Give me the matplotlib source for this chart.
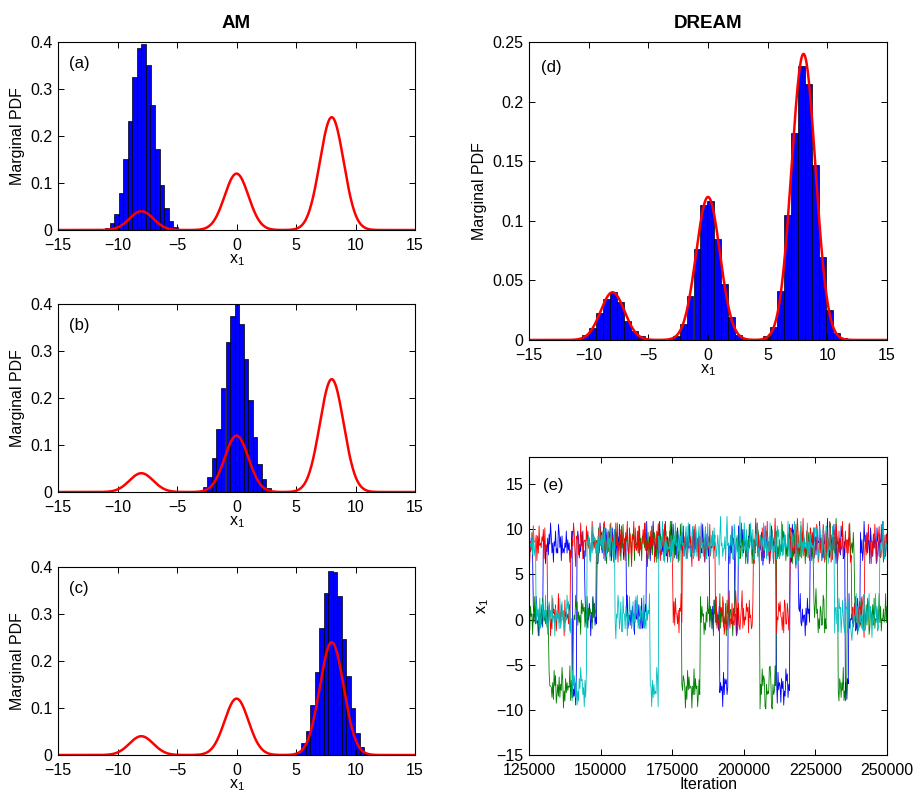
import numpy as np
import matplotlib.pyplot as plt
from matplotlib.ticker import FuncFormatter

plt.rcParams['font.family'] = ['Liberation Sans', 'DejaVu Sans']

# ---- histogram data ----
a_centers = [-10.85, -10.47, -10.09, -9.71, -9.33, -8.95, -8.56, -8.18,
             -7.80, -7.42, -7.04, -6.66, -6.28, -5.90, -5.52, -5.14]
a_heights = [0.0035, 0.0156, 0.035, 0.079, 0.151, 0.232, 0.325, 0.387,
             0.395, 0.352, 0.266, 0.173, 0.096, 0.046, 0.019, 0.007]

b_centers = [-3.02, -2.64, -2.26, -1.88, -1.50, -1.12, -0.73, -0.35, 0.03,
             0.41, 0.79, 1.17, 1.55, 1.93, 2.31, 2.70, 3.08]
b_heights = [0.003, 0.011, 0.031, 0.072, 0.134, 0.222, 0.320, 0.375, 0.399,
             0.357, 0.284, 0.196, 0.118, 0.059, 0.028, 0.009, 0.002]

c_centers = [4.85, 5.23, 5.61, 5.99, 6.37, 6.75, 7.14, 7.52, 7.90, 8.28,
             8.66, 9.04, 9.42, 9.80, 10.18, 10.56, 10.94]
c_heights = [0.002, 0.005, 0.025, 0.052, 0.106, 0.177, 0.271, 0.344, 0.392,
             0.390, 0.339, 0.247, 0.168, 0.099, 0.046, 0.016, 0.004]

d_centers = [-11.42, -10.84, -10.25, -9.67, -9.09, -8.50, -7.92, -7.34,
             -6.75, -6.17, -5.59, -5.01, -4.42, -3.84, -3.26, -2.67, -2.09,
             -1.51, -0.92, -0.34, 0.24, 0.82, 1.41, 1.99, 2.57, 3.16, 3.74,
             4.32, 4.91, 5.49, 6.07, 6.65, 7.24, 7.82, 8.40, 8.99, 9.57,
             10.15, 10.74, 11.32]
d_heights = [0.0005, 0.001, 0.004, 0.010, 0.023, 0.034, 0.040, 0.032,
             0.016, 0.0075, 0.0034, 0.001, 0.0002, 0.0, 0.001, 0.0036, 0.0137,
             0.0366, 0.076, 0.113, 0.117, 0.085, 0.047, 0.019, 0.0045, 0.001,
             0.0002, 0.001, 0.003, 0.011, 0.041, 0.105, 0.174, 0.230, 0.215,
             0.147, 0.070, 0.025, 0.006, 0.002]

# target mixture (peak positions / heights)
peak_means = [-8, 0, 8]
peak_heights = [0.04, 0.12, 0.24]
peak_sd = 1.0

# ---- DREAM chains: mode switches (iteration, level) + wiggle digits ----
# each wiggle digit is an offset from the current mode level
wiggle_offsets = [-3.0, -2.1, -1.4, -0.8, -0.3, 0.3, 0.8, 1.4, 2.1, 3.1]

blue_switch = [125000, 126500, 130000, 140200, 141700, 144500, 148600, 159000,
               166000, 188000, 191500, 194500, 196800, 198000, 211400, 216000,
               219000, 223000, 235300, 236500, 240500]
blue_level = [8, 0, 8, -8, 8, 0, 8, 0, 8, 0, -8, 8, 0, 8, -8, 8, 0, 8, -8, 0, 8]
blue_wiggle = ("46375284639251746372845163728495361748253964718253"
               "64827361548263719485263748159372648517394826351749"
               "38264719538462719358426473918564273849165372846193"
               "57384629147385926471835946273815947263859147362859"
               "46372819564738291564728391647582936471825394617283"
               "35476281947365283746192857364518293746518293647582"
               "74625183947261538495627384152937465182937465281937"
               "52847163958274613958247361859247365182947356281947"
               "28465937152846379152864739251846372958146372859164"
               "63748152946382715946382751946283751946283759146285")

green_switch = [125000, 132000, 140500, 148500, 178300, 184700, 197000, 205600,
                211400, 224200, 228800, 232900, 236000, 238500]
green_level = [0, -8, 0, 8, -8, 0, 8, -8, 8, 0, 8, -8, 8, 0]
green_wiggle = ("52846173928465173829546372819465372948156382749516"
                "28374659182736495827361948572639184756293847561928"
                "73649285176384925617384926571839462758319462857193"
                "64829371856492738165472938561749283657194826375918"
                "39527486153927486517293846517392846157392846152739"
                "47283651948273659184726351948276351849276358149275"
                "85162739485162739458612739486127354986127359481627"
                "26394857162839475162839457162938475162938457162938"
                "94716285349716285374916285379416285374916258374916"
                "53829164735829164753829614753829164735928164735928")

red_switch = [125000, 131500, 139500, 175300, 178500, 190000, 203300, 211400,
              216000, 237600, 242200]
red_level = [8, 0, 8, 0, 8, 0, 8, 0, 8, 0, 8]
red_wiggle = ("61738294657182936475819264738516294738165927384651"
              "92746381527496318572649381756294837165928374615829"
              "37485916274839165728493617582946371859246731859264"
              "48291736584927316548293761548392716458392761548273"
              "15829463718592647381529647318295463718529463718254"
              "73916482573916428573961482357916482537961482357918"
              "26485719362485179362845719326485917326485179326485"
              "84527196348527196384521796348527916348527196384527"
              "39614827539614827359614287539614827359164827539614"
              "57283946157283964157283946517283946157823946157283")

cyan_switch = [125000, 127500, 140000, 145100, 155000, 167200, 170100, 231700,
               247400]
cyan_level = [8, 0, -8, 8, 0, -8, 8, 0, 8]
cyan_wiggle = ("83647291563847291658374926158374926518374629158374"
               "26495837162948537162849573618294573618294753618294"
               "57381946258371946258317496258139462851739462581739"
               "49162837549162837594618273549618273594618273546182"
               "71849362571849362578149362578143962578149362578149"
               "36257481936257418936254718936257481396257418936254"
               "92581637492581367492518637492581763492581637429581"
               "45917283645917238645971283645917283654917283645197"
               "68342957168342975168342957186342957168432957168342"
               "14736592814736529814736592841736592814736259814736")

chains = [
    (blue_switch, blue_level, blue_wiggle, (0, 0, 1)),
    (green_switch, green_level, green_wiggle, (0, 0.5, 0)),
    (red_switch, red_level, red_wiggle, (1, 0, 0)),
    (cyan_switch, cyan_level, cyan_wiggle, (0, 0.75, 0.75)),
]


def style_axes(ax):
    ax.tick_params(direction='in', top=True, right=True, length=4,
                   width=0.7, labelsize=11.5)
    ax.tick_params(axis='x', pad=6)
    ax.tick_params(axis='y', pad=4)
    for s in ax.spines.values():
        s.set_linewidth(0.8)


def target_pdf(x):
    y = np.zeros_like(x)
    for m, h in zip(peak_means, peak_heights):
        y += h * np.exp(-0.5 * ((x - m) / peak_sd) ** 2)
    return y


xlab = r'$\mathregular{x_1}$'
xg = np.linspace(-15, 15, 601)

fig = plt.figure(figsize=(9.14, 7.91), dpi=100)

left_pos = [[0.0635, 0.7092, 0.3906, 0.2377],
            [0.0635, 0.3780, 0.3906, 0.2377],
            [0.0635, 0.0455, 0.3906, 0.2377]]
hist_sets = [(a_centers, a_heights, '(a)'),
             (b_centers, b_heights, '(b)'),
             (c_centers, c_heights, '(c)')]

for pos, (cen, hts, tag) in zip(left_pos, hist_sets):
    ax = fig.add_axes(pos)
    ax.bar(cen, hts, width=0.381, color='b', edgecolor='k', linewidth=0.5)
    ax.plot(xg, target_pdf(xg), color='r', lw=1.8)
    ax.set_xlim(-15, 15)
    ax.set_ylim(0, 0.4)
    ax.set_xticks(range(-15, 16, 5))
    ax.set_yticks([0, 0.1, 0.2, 0.3, 0.4])
    ax.yaxis.set_major_formatter(FuncFormatter(lambda v, p: '%g' % v))
    ax.set_xlabel(xlab, fontsize=11.5, labelpad=-1)
    ax.set_ylabel('Marginal PDF', fontsize=11.5)
    ax.text(0.031, 0.885, tag, transform=ax.transAxes, fontsize=12, va='center')
    style_axes(ax)
    if tag == '(a)':
        ax.set_title('AM', fontsize=13.5, fontweight='bold', pad=10)

# (d) DREAM histogram
ax = fig.add_axes([0.5788, 0.5702, 0.3917, 0.3767])
ax.bar(d_centers, d_heights, width=0.583, color='b', edgecolor='k', linewidth=0.5)
ax.plot(xg, target_pdf(xg), color='r', lw=1.8)
ax.set_xlim(-15, 15)
ax.set_ylim(0, 0.25)
ax.set_xticks(range(-15, 16, 5))
ax.set_yticks([0, 0.05, 0.1, 0.15, 0.2, 0.25])
ax.yaxis.set_major_formatter(FuncFormatter(lambda v, p: '%g' % v))
ax.set_xlabel(xlab, fontsize=11.5, labelpad=-1)
ax.set_ylabel('Marginal PDF', fontsize=11.5)
ax.text(0.034, 0.914, '(d)', transform=ax.transAxes, fontsize=12, va='center')
ax.set_title('DREAM', fontsize=13.5, fontweight='bold', pad=10)
style_axes(ax)

# (e) trace plot
ax = fig.add_axes([0.5788, 0.0455, 0.3917, 0.3767])
for sw, lv, wig, col in chains:
    it = np.linspace(125000, 250000, len(wig))
    idx = np.searchsorted(sw, it, side='right') - 1
    offs = np.array([wiggle_offsets[int(ch)] for ch in wig])
    # blend each digit a little with the one before it so band edges are ragged
    offs = 0.9 * offs + 0.3 * np.roll(offs, 1)
    ax.plot(it, np.array(lv)[idx] + offs, color=col, lw=0.6)
ax.set_xlim(125000, 250000)
ax.set_ylim(-15, 18)
xt = [125000, 150000, 175000, 200000, 225000, 250000]
ax.set_xticks(xt)
ax.set_xticklabels([str(v) for v in xt])
ax.set_yticks(range(-15, 16, 5))
ax.set_xlabel('Iteration', fontsize=11.5, labelpad=-1)
ax.set_ylabel(xlab, fontsize=11.5)
ax.text(0.039, 0.906, '(e)', transform=ax.transAxes, fontsize=12, va='center')
style_axes(ax)

fig.savefig('out.png', dpi=100)
